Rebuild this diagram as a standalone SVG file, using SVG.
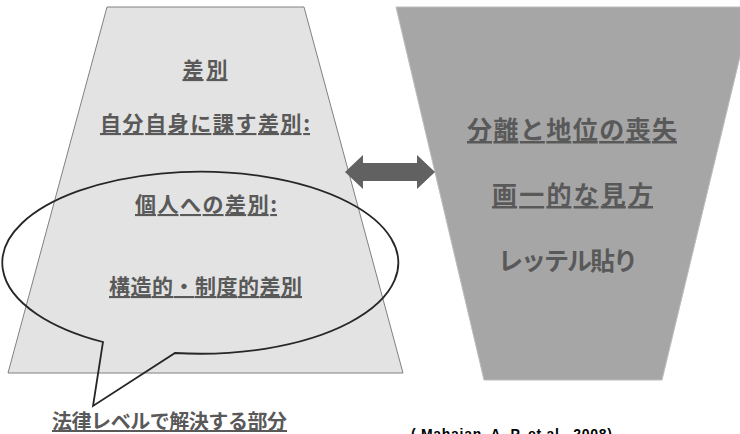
<svg xmlns="http://www.w3.org/2000/svg" width="740" height="434" viewBox="0 0 740 434">
  <style>
    .jp { font-family: "Noto Sans CJK JP", "Noto Sans", sans-serif; font-weight: bold; fill: #595959; text-anchor: middle; }
    .ul { text-decoration: underline; }
    .l { font-size: 21px; }
    .r { font-size: 25px; }
    .cite { font-family: "Liberation Sans", Arial, sans-serif; font-weight: bold; font-size: 14px; fill: #000; }
  </style>
  <rect width="740" height="434" fill="#ffffff"/>

  <g id="left-trapezoid">
    <polygon points="107,7 304,7 403,373 8,373" fill="#e3e3e3" stroke="#808080" stroke-width="1"/>
    <text class="jp l ul" x="205" y="77" textLength="45">差別</text>
    <text class="jp l ul" x="205" y="131" textLength="210">自分自身に課す差別:</text>
    <text class="jp l ul" x="206" y="212" textLength="142">個人への差別:</text>
    <text class="jp l ul" x="205.5" y="294" textLength="193">構造的・制度的差別</text>
  </g>

  <g id="right-trapezoid">
    <polygon points="396,7 752,7 662,380 484,380" fill="#a6a6a6" stroke="#bdbdbd" stroke-width="1"/>
    <text class="jp r ul" x="572" y="139" textLength="210">分離と地位の喪失</text>
    <text class="jp r ul" x="572.5" y="204" textLength="161">画一的な見方</text>
    <text class="jp r" x="568" y="270" textLength="140">レッテル貼り</text>
  </g>

  <g id="connectors">
    <polygon points="345,172 363,155 363,163 417,163 417,155 435,172 417,189 417,181 363,181 363,189" fill="#616161"/>
  </g>

  <g id="callout">
    <path d="M103,342 A198,91 0 1,1 175,353 L93,406 Z" fill="none" stroke="#262626" stroke-width="1.8" stroke-linejoin="miter"/>
    <text class="jp ul" x="169.5" y="429" font-size="20" textLength="235">法律レベルで解決する部分</text>
  </g>

  <g id="citation">
    <text class="cite" x="411" y="439" textLength="201">( Mahajan, A. P. et al., 2008)</text>
  </g>
</svg>
